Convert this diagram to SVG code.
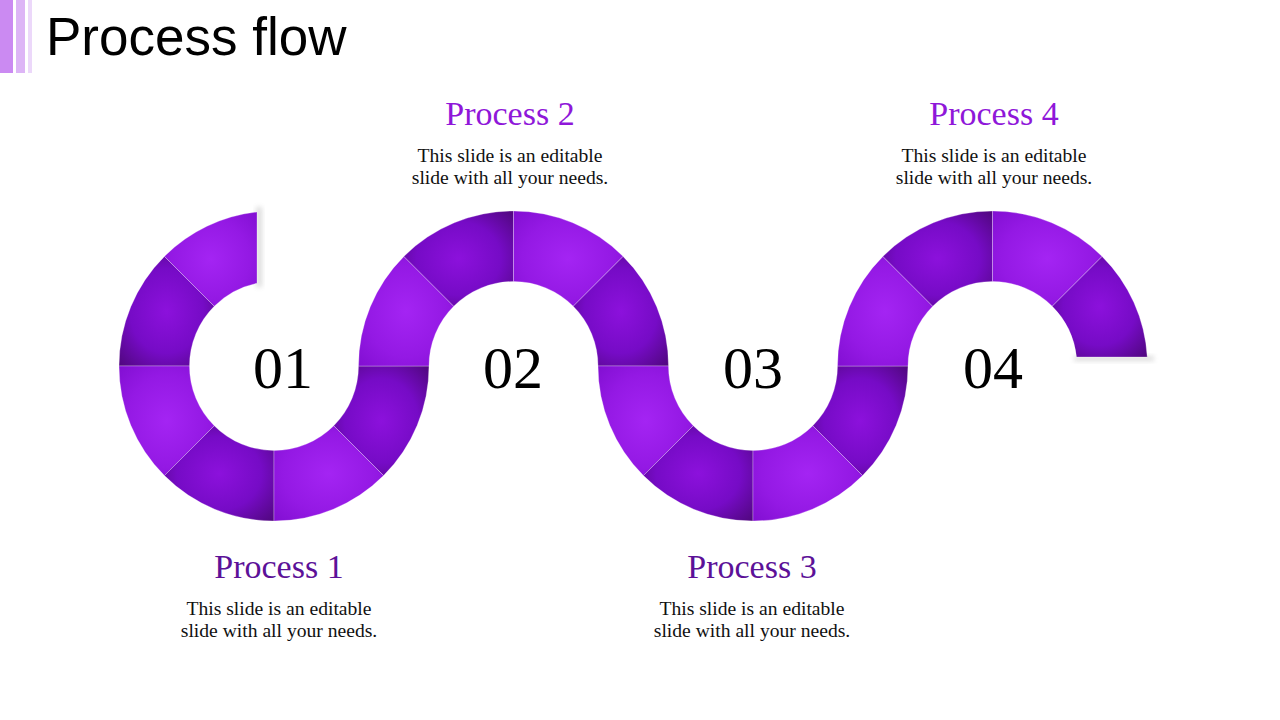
<svg xmlns="http://www.w3.org/2000/svg" width="1280" height="720" viewBox="0 0 1280 720">
<defs>
<radialGradient id="gLight" cx="0.5" cy="0.5" r="0.7">
<stop offset="0" stop-color="#A424F3"/>
<stop offset="0.6" stop-color="#9419E4"/>
<stop offset="1" stop-color="#820FD2"/>
</radialGradient>
<radialGradient id="gDark" cx="0.5" cy="0.5" r="0.7">
<stop offset="0" stop-color="#8C11DC"/>
<stop offset="0.55" stop-color="#760BC6"/>
<stop offset="1" stop-color="#50077E"/>
</radialGradient>
<filter id="blur" x="-50%" y="-50%" width="200%" height="200%">
<feGaussianBlur stdDeviation="2.5"/>
</filter>
</defs>
<style>
.l{fill:url(#gLight);stroke:#ffffff;stroke-opacity:0.35;stroke-width:0.8}
.d{fill:url(#gDark);stroke:#ffffff;stroke-opacity:0.35;stroke-width:0.8}
.num{font-family:"Liberation Serif",serif;font-size:60px;fill:#000;text-anchor:middle}
.h1{font-family:"Liberation Serif",serif;font-size:34px;fill:#8F17D9;text-anchor:middle}
.h2{font-family:"Liberation Serif",serif;font-size:34px;fill:#5C1198;text-anchor:middle}
.b{font-family:"Liberation Serif",serif;font-size:19.6px;fill:#111;text-anchor:middle}
.sh{fill:#666;opacity:0.22;filter:url(#blur)}
</style>
<rect width="1280" height="720" fill="#fff"/>
<g id="header">
<rect x="0" y="0" width="13" height="73" fill="#CB8AF2"/>
<rect x="16" y="0" width="9" height="73" fill="#DDB5F6"/>
<rect x="28" y="0" width="4" height="73" fill="#ECD8FA"/>
<text x="46" y="55" font-family="Liberation Sans, Arial, sans-serif" font-size="53" fill="#000">Process flow</text>
</g>
<g id="shadows">
<rect class="sh" x="256" y="207" width="6" height="80"/>
<rect class="sh" x="1074" y="356" width="80" height="5"/>
</g>
<g id="ribbon">
<path class="l" d="M257 211.93 A155 155 0 0 0 164.40 256.40 L214.25 306.25 A84.5 84.5 0 0 1 257 283.23 Z"/>
<path class="d" d="M164.40 256.40 A155 155 0 0 0 119 366 L189.5 366 A84.5 84.5 0 0 1 214.25 306.25 Z"/>
<path class="l" d="M119 366 A155 155 0 0 0 164.40 475.60 L214.25 425.75 A84.5 84.5 0 0 1 189.5 366 Z"/>
<path class="d" d="M164.40 475.60 A155 155 0 0 0 274 521 L274 450.5 A84.5 84.5 0 0 1 214.25 425.75 Z"/>
<path class="l" d="M274 521 A155 155 0 0 0 383.60 475.60 L333.75 425.75 A84.5 84.5 0 0 1 274 450.5 Z"/>
<path class="d" d="M383.60 475.60 A155 155 0 0 0 429 366 L358.5 366 A84.5 84.5 0 0 1 333.75 425.75 Z"/>
<path class="l" d="M358.5 366 A155 155 0 0 1 403.90 256.40 L453.75 306.25 A84.5 84.5 0 0 0 429 366 Z"/>
<path class="d" d="M403.90 256.40 A155 155 0 0 1 513.5 211 L513.5 281.5 A84.5 84.5 0 0 0 453.75 306.25 Z"/>
<path class="l" d="M513.5 211 A155 155 0 0 1 623.10 256.40 L573.25 306.25 A84.5 84.5 0 0 0 513.5 281.5 Z"/>
<path class="d" d="M623.10 256.40 A155 155 0 0 1 668.5 366 L598 366 A84.5 84.5 0 0 0 573.25 306.25 Z"/>
<path class="l" d="M598 366 A155 155 0 0 0 643.40 475.60 L693.25 425.75 A84.5 84.5 0 0 1 668.5 366 Z"/>
<path class="d" d="M643.40 475.60 A155 155 0 0 0 753 521 L753 450.5 A84.5 84.5 0 0 1 693.25 425.75 Z"/>
<path class="l" d="M753 521 A155 155 0 0 0 862.60 475.60 L812.75 425.75 A84.5 84.5 0 0 1 753 450.5 Z"/>
<path class="d" d="M862.60 475.60 A155 155 0 0 0 908 366 L837.5 366 A84.5 84.5 0 0 1 812.75 425.75 Z"/>
<path class="l" d="M837.5 366 A155 155 0 0 1 882.90 256.40 L932.75 306.25 A84.5 84.5 0 0 0 908 366 Z"/>
<path class="d" d="M882.90 256.40 A155 155 0 0 1 992.5 211 L992.5 281.5 A84.5 84.5 0 0 0 932.75 306.25 Z"/>
<path class="l" d="M992.5 211 A155 155 0 0 1 1102.10 256.40 L1052.25 306.25 A84.5 84.5 0 0 0 992.5 281.5 Z"/>
<path class="d" d="M1102.10 256.40 A155 155 0 0 1 1147.24 357 L1076.52 357 A84.5 84.5 0 0 0 1052.25 306.25 Z"/>
</g>
<g id="node-1">
<text class="num" x="283" y="388">01</text>
<text class="h2" x="279" y="578">Process 1</text>
<text class="b" x="279" y="615">This slide is an editable</text>
<text class="b" x="279" y="637">slide with all your needs.</text>
</g>
<g id="node-2">
<text class="num" x="513" y="388">02</text>
<text class="h1" x="510" y="125">Process 2</text>
<text class="b" x="510" y="162">This slide is an editable</text>
<text class="b" x="510" y="184">slide with all your needs.</text>
</g>
<g id="node-3">
<text class="num" x="753" y="388">03</text>
<text class="h2" x="752" y="578">Process 3</text>
<text class="b" x="752" y="615">This slide is an editable</text>
<text class="b" x="752" y="637">slide with all your needs.</text>
</g>
<g id="node-4">
<text class="num" x="993" y="388">04</text>
<text class="h1" x="994" y="125">Process 4</text>
<text class="b" x="994" y="162">This slide is an editable</text>
<text class="b" x="994" y="184">slide with all your needs.</text>
</g>
</svg>
